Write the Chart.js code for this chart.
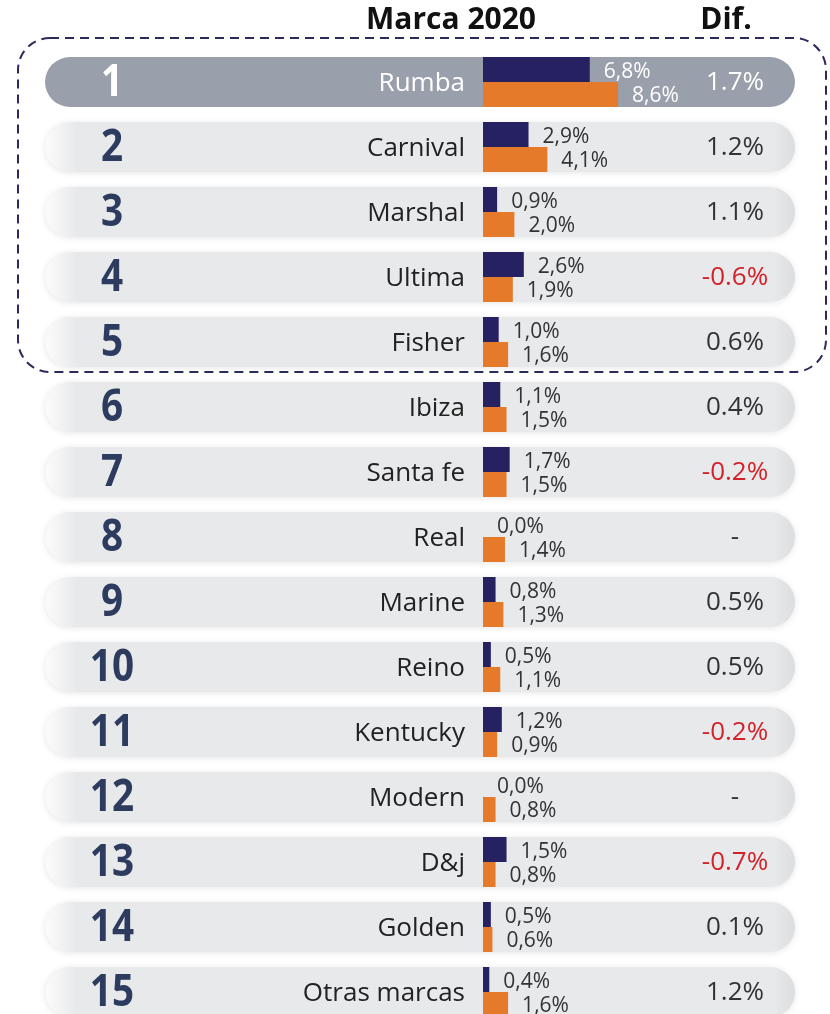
<!DOCTYPE html>
<html>
<head>
<meta charset="utf-8">
<script src="https://cdn.jsdelivr.net/npm/chart.js@4/dist/chart.umd.min.js"></script>
<style>
html,body{margin:0;padding:0;background:#fff;overflow:hidden;}
canvas{display:block;}
</style>
</head>
<body>
<canvas id="c" width="830" height="1030"></canvas>
<script>
const ranks = ["1","2","3","4","5","6","7","8","9","10","11","12","13","14","15"];
const brands = ["Rumba","Carnival","Marshal","Ultima","Fisher","Ibiza","Santa fe","Real","Marine","Reino","Kentucky","Modern","D&j","Golden","Otras marcas"];
const share2019 = [6.8,2.9,0.9,2.6,1.0,1.1,1.7,0.0,0.8,0.5,1.2,0.0,1.5,0.5,0.4];
const share2020 = [8.6,4.1,2.0,1.9,1.6,1.5,1.5,1.4,1.3,1.1,0.9,0.8,0.8,0.6,1.6];
const difs = [1.7,1.2,1.1,-0.6,0.6,0.4,-0.2,null,0.5,0.5,-0.2,null,-0.7,0.1,1.2];
const headers = ["Marca 2020","Dif."];

const NAVY = "#262262";
const ORANGE = "#e57a2a";
const FONT = "'Open Sans', 'Noto Sans', sans-serif";

function roundRect(ctx, x, y, w, h, r){
  ctx.beginPath();
  ctx.moveTo(x+r,y);
  ctx.lineTo(x+w-r,y);
  ctx.arc(x+w-r,y+r,r,-Math.PI/2,0);
  ctx.lineTo(x+w,y+h-r);
  ctx.arc(x+w-r,y+h-r,r,0,Math.PI/2);
  ctx.lineTo(x+r,y+h);
  ctx.arc(x+r,y+h-r,r,Math.PI/2,Math.PI);
  ctx.lineTo(x,y+r);
  ctx.arc(x+r,y+r,r,Math.PI,Math.PI*1.5);
  ctx.closePath();
}

const pillPlugin = {
  id:'pills',
  beforeDatasetsDraw(chart){
    const ctx = chart.ctx, ys = chart.scales.y;
    const L = 45, R = 795, H = 50;
    brands.forEach((b,i)=>{
      const cy = ys.getPixelForValue(i);
      const top = cy - H/2;
      ctx.save();
      if(i===0){
        roundRect(ctx,L,top,R-L,H,H/2);
        ctx.fillStyle = "#9aa0ab";
        ctx.fill();
      } else {
        ctx.shadowColor = "rgba(0,0,0,0.10)";
        ctx.shadowBlur = 6;
        ctx.shadowOffsetY = 1;
        roundRect(ctx,L,top,R-L,H,H/2);
        ctx.fillStyle = "#e8e9eb";
        ctx.fill();
        ctx.shadowColor = "transparent";
        ctx.save();
        roundRect(ctx,L,top,R-L,H,H/2);
        ctx.clip();
        let g = ctx.createLinearGradient(L,0,L+32,0);
        g.addColorStop(0,"rgba(255,255,255,0.85)");
        g.addColorStop(1,"rgba(255,255,255,0)");
        ctx.fillStyle = g;
        ctx.fillRect(L,top,34,H);
        let g2 = ctx.createLinearGradient(R-22,0,R,0);
        g2.addColorStop(0,"rgba(0,0,0,0)");
        g2.addColorStop(1,"rgba(0,0,0,0.05)");
        ctx.fillStyle = g2;
        ctx.fillRect(R-22,top,22,H);
        ctx.restore();
      }
      ctx.restore();
    });
  },
  afterDatasetsDraw(chart){
    const ctx = chart.ctx, ys = chart.scales.y;
    ctx.save();
    // header
    ctx.fillStyle = "#111";
    ctx.font = "bold 30px " + FONT;
    ctx.textAlign = "center";
    ctx.textBaseline = "middle";
    ctx.fillText(headers[0], 451, 20);
    ctx.fillText(headers[1], 726, 20);
    // dashed box
    ctx.save();
    ctx.setLineDash([9,6]);
    ctx.lineWidth = 2;
    ctx.strokeStyle = "#2b2a5c";
    roundRect(ctx,18,38,808,334,32);
    ctx.stroke();
    ctx.restore();

    const m0 = chart.getDatasetMeta(0), m1 = chart.getDatasetMeta(1);
    brands.forEach((b,i)=>{
      const cy = ys.getPixelForValue(i);
      const hl = i===0;
      // rank (slightly condensed)
      ctx.save();
      ctx.font = "bold 44px " + FONT;
      ctx.textAlign = "center";
      ctx.textBaseline = "middle";
      ctx.fillStyle = hl ? "#ffffff" : "#2d3c5e";
      ctx.translate(112, cy+1);
      ctx.scale(0.88,1);
      ctx.fillText(ranks[i], 0, 0);
      ctx.restore();
      // brand
      ctx.font = "26px " + FONT;
      ctx.textAlign = "right";
      ctx.textBaseline = "middle";
      ctx.fillStyle = hl ? "#ffffff" : "#222";
      ctx.fillText(b, 465, cy+2);
      // value labels
      ctx.font = "21px " + FONT;
      ctx.textAlign = "left";
      ctx.fillStyle = hl ? "#ffffff" : "#333";
      const b0 = m0.data[i], b1 = m1.data[i];
      ctx.fillText(share2019[i].toFixed(1).replace(".",",")+"%", b0.x+14, cy-10);
      ctx.fillText(share2020[i].toFixed(1).replace(".",",")+"%", b1.x+14, cy+14);
      // dif
      ctx.font = "26px " + FONT;
      ctx.textAlign = "center";
      const d = difs[i];
      let txt, col;
      if(d===null){ txt="-"; col = "#333"; }
      else { txt = d.toFixed(1)+"%"; col = d<0 ? "#d2232a" : "#333"; }
      if(hl) col = "#ffffff";
      ctx.fillStyle = col;
      ctx.fillText(txt, 735, cy+1);
    });
    ctx.restore();
  }
};

new Chart(document.getElementById('c'), {
  type:'bar',
  data:{
    labels: brands,
    datasets:[
      {label:'2019', data: share2019, backgroundColor: NAVY, barThickness: 25, borderWidth:0, inflateAmount:0},
      {label:'2020', data: share2020, backgroundColor: ORANGE, barThickness: 25, borderWidth:0, inflateAmount:0}
    ]
  },
  options:{
    indexAxis:'y',
    responsive:false,
    animation:false,
    layout:{padding:{left:483, right:190, top:49.5, bottom:5.5}},
    scales:{
      x:{min:0,max:10,display:false,grid:{display:false}},
      y:{display:false,grid:{display:false}}
    },
    plugins:{legend:{display:false},tooltip:{enabled:false}}
  },
  plugins:[pillPlugin]
});
</script>
</body>
</html>
